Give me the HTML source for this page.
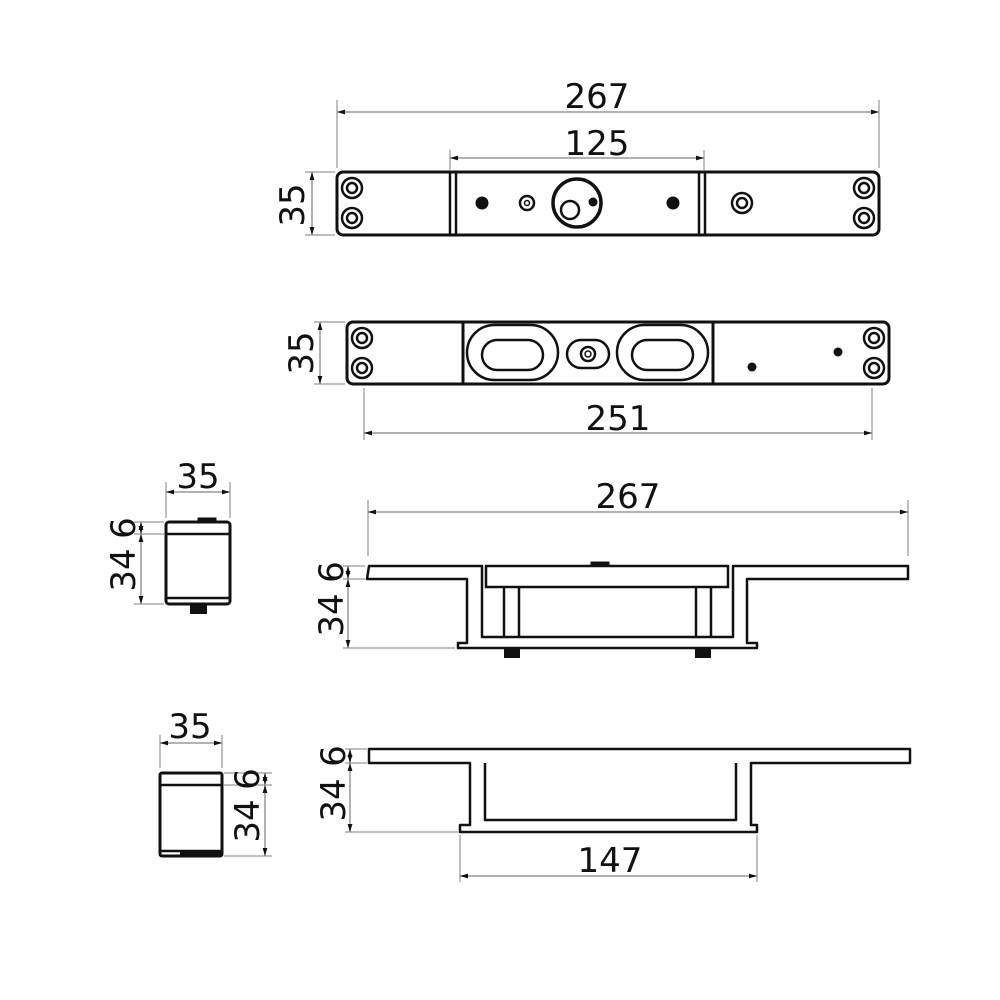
<!DOCTYPE html>
<html><head><meta charset="utf-8"><style>body{margin:0;background:#fff}svg{display:block}text{font-family:"DejaVu Sans","Liberation Sans",sans-serif;font-size:34px;fill:#111}</style></head><body>
<svg width="1000" height="1000" viewBox="0 0 1000 1000" xmlns="http://www.w3.org/2000/svg">
<defs>
<marker id="a" viewBox="0 0 10 10" refX="10" refY="5" markerWidth="10" markerHeight="8" orient="auto-start-reverse" markerUnits="userSpaceOnUse"><path d="M0,2 L10,5 L0,8 z" fill="#111"/></marker>
</defs>
<g stroke="#aaa" stroke-width="1.5" fill="none">
<!-- ext lines -->
<path d="M337,100V168 M879,100V168 M450,150V170 M704,150V170 M305,172H335 M305,235H335"/>
<path d="M314,322H345 M314,384H345 M364,388V440 M872,388V440"/>
<path d="M368,500V556 M908,500V556 M343,566H365 M343,579H365 M343,648H455"/>
<path d="M166,482V518 M230,482V518 M134,522H164 M134,534H164 M134,604H164"/>
<path d="M160,735V768 M222,735V768 M224,773H272 M224,785H272 M224,856H272"/>
<path d="M345,749H367 M345,763H367 M345,832H458 M460,835V882 M757,835V882"/>
</g>
<g stroke="#999" stroke-width="1.5" fill="none" marker-start="url(#a)" marker-end="url(#a)">
<line x1="337" y1="112" x2="879" y2="112"/>
<line x1="450" y1="158" x2="704" y2="158"/>
<line x1="312" y1="172" x2="312" y2="235"/>
<line x1="320" y1="322" x2="320" y2="384"/>
<line x1="364" y1="433" x2="872" y2="433"/>
<line x1="368" y1="512" x2="908" y2="512"/>
<line x1="348" y1="566" x2="348" y2="579"/>
<line x1="348" y1="579" x2="348" y2="648"/>
<line x1="166" y1="492" x2="230" y2="492"/>
<line x1="141" y1="522" x2="141" y2="534"/>
<line x1="141" y1="534" x2="141" y2="604"/>
<line x1="160" y1="743" x2="222" y2="743"/>
<line x1="265" y1="773" x2="265" y2="785"/>
<line x1="265" y1="785" x2="265" y2="856"/>
<line x1="350" y1="749" x2="350" y2="763"/>
<line x1="350" y1="763" x2="350" y2="832"/>
<line x1="460" y1="876" x2="757" y2="876"/>
</g>
<g text-anchor="middle">
<text x="597" y="108">267</text>
<text x="597" y="155">125</text>
<text x="618" y="430">251</text>
<text x="628" y="508">267</text>
<text x="198" y="488">35</text>
<text x="190" y="738">35</text>
<text x="610" y="872">147</text>
<text transform="translate(304,205) rotate(-90)">35</text>
<text transform="translate(313,353) rotate(-90)">35</text>
<text transform="translate(343,572) rotate(-90)">6</text>
<text transform="translate(343,615) rotate(-90)">34</text>
<text transform="translate(135,528) rotate(-90)">6</text>
<text transform="translate(135,570) rotate(-90)">34</text>
<text transform="translate(259,779) rotate(-90)">6</text>
<text transform="translate(259,821) rotate(-90)">34</text>
<text transform="translate(345,756) rotate(-90)">6</text>
<text transform="translate(345,800) rotate(-90)">34</text>
</g>
<g stroke="#111" stroke-width="3" fill="none">
<!-- view 1 -->
<rect x="337" y="172" width="542" height="63" rx="6"/>
<path d="M450,172V235 M456,172V235 M699,172V235 M705,172V235" stroke-width="2.5"/>
<g stroke-width="2.5">
<circle cx="352" cy="188" r="10"/><circle cx="352" cy="188" r="5"/>
<circle cx="352" cy="218" r="10"/><circle cx="352" cy="218" r="5"/>
<circle cx="864" cy="188" r="10"/><circle cx="864" cy="188" r="5"/>
<circle cx="864" cy="218" r="10"/><circle cx="864" cy="218" r="5"/>
<circle cx="742" cy="203" r="10"/><circle cx="742" cy="203" r="5"/>
<circle cx="527" cy="203" r="7"/><circle cx="527" cy="203" r="2.5" stroke-width="1.5"/>
<circle cx="570" cy="210" r="9"/>
</g>
<circle cx="577" cy="203" r="24" stroke-width="3.5"/>
<circle cx="482" cy="203" r="5" fill="#111"/><circle cx="673" cy="203" r="5" fill="#111"/>
<circle cx="593" cy="202" r="3" fill="#111"/>
<!-- view 2 -->
<rect x="347" y="322" width="542" height="62" rx="6"/>
<path d="M463,322V384 M713,322V384"/>
<g stroke-width="2.5">
<circle cx="362" cy="338" r="10"/><circle cx="362" cy="338" r="5"/>
<circle cx="362" cy="368" r="10"/><circle cx="362" cy="368" r="5"/>
<circle cx="874" cy="338" r="10"/><circle cx="874" cy="338" r="5"/>
<circle cx="874" cy="368" r="10"/><circle cx="874" cy="368" r="5"/>
<rect x="467" y="325" width="91" height="55" rx="27.5"/>
<rect x="482" y="340" width="61" height="30" rx="15"/>
<rect x="617" y="325" width="91" height="55" rx="27.5"/>
<rect x="632" y="340" width="61" height="30" rx="15"/>
<rect x="567" y="340" width="42" height="28" rx="14"/>
<circle cx="588" cy="354" r="7"/><circle cx="588" cy="354" r="3" stroke-width="1.5"/>
</g>
<circle cx="752" cy="367" r="3" fill="#111"/><circle cx="838" cy="352" r="3" fill="#111"/>
<!-- view 3 -->
<path d="M369,566H482V637H733V566H908V579H747V643H757V648H458V643H467V579H367Z" stroke-width="2.5" stroke-linejoin="round"/>
<rect x="486" y="566" width="242" height="21" stroke-width="2.5"/>
<path d="M504,587V637 M519,587V637 M696,587V637 M711,587V637" stroke-width="2.5"/>
<rect x="591" y="562" width="18" height="4" fill="#111" stroke-width="1"/>
<rect x="504" y="648" width="16" height="10" fill="#111" stroke="none"/>
<rect x="695" y="648" width="16" height="10" fill="#111" stroke="none"/>
<!-- side 1 -->
<rect x="166" y="522" width="64" height="82" rx="3"/>
<path d="M166,534H230 M166,598H230" stroke-width="2.5"/>
<rect x="198" y="518" width="18" height="4" fill="#111" stroke-width="1"/>
<rect x="190" y="604" width="17" height="10" fill="#111" stroke="none"/>
<!-- side 2 -->
<rect x="160" y="773" width="62" height="83" rx="2"/>
<path d="M160,785H222 M160,851H222" stroke-width="2.5"/>
<rect x="180" y="851" width="42" height="5" fill="#111" stroke="none"/>
<!-- view 4 -->
<path d="M369,749H910V763H751V825H757V832H460V825H470V763H369Z M485,763V820H736V763" stroke-width="2.5" stroke-linejoin="round"/>
</g>
</svg>
</body></html>
